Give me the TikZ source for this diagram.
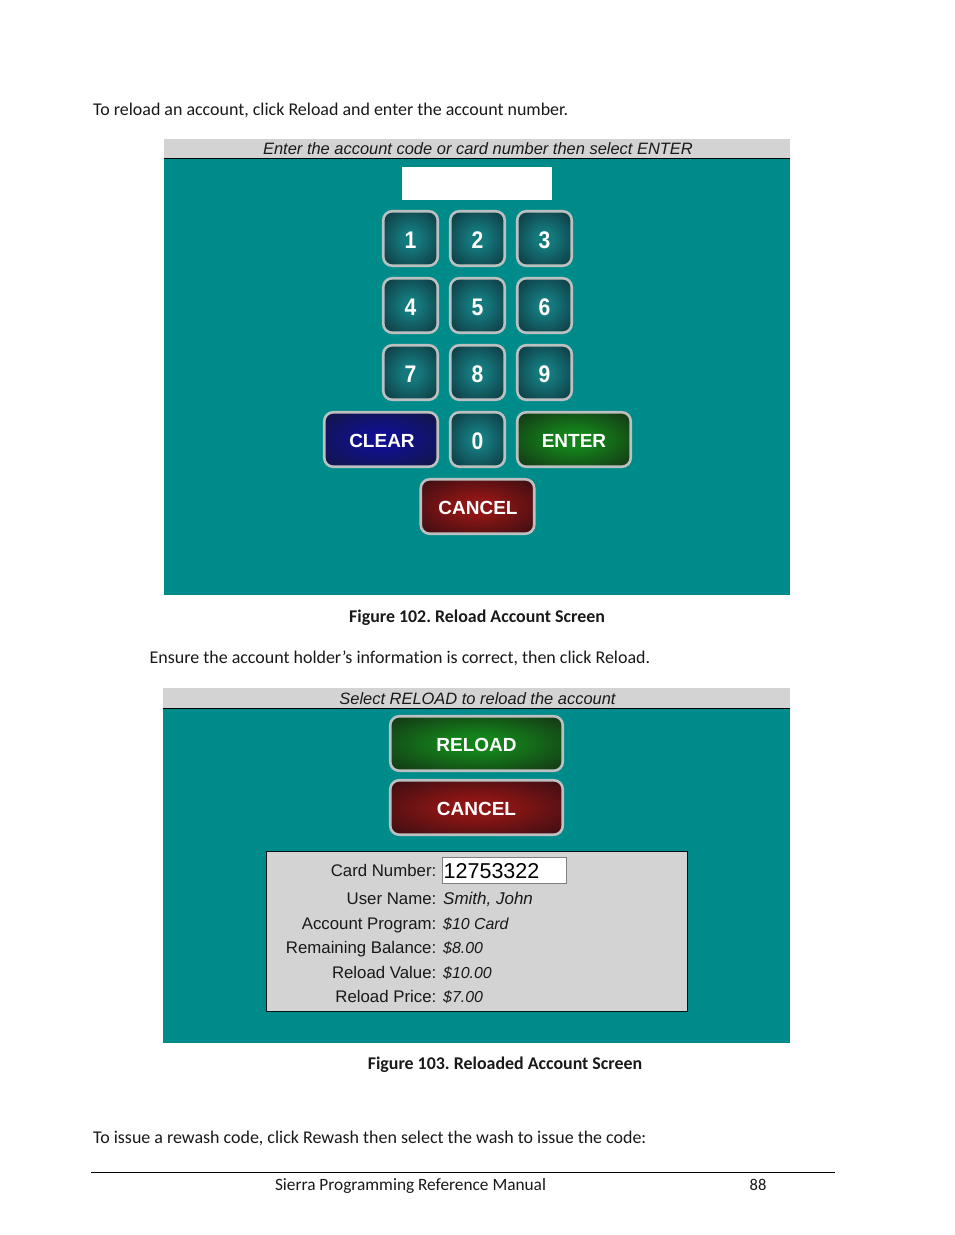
\documentclass[tikz,border=0pt]{standalone}
\usepackage{fontspec}
\setmainfont[Ligatures=NoCommon]{Carlito}
\newfontfamily\uifont{Liberation Sans}
\newfontfamily\digitfont[FakeStretch=0.88]{Liberation Sans}
\frenchspacing
\definecolor{tealbg}{HTML}{008B8B}
\definecolor{panelgray}{HTML}{D3D3D3}
\definecolor{rimgray}{HTML}{BCC0C0}
\definecolor{keyin}{HTML}{14787C}
\definecolor{keyout}{HTML}{0E343C}
\definecolor{bluein}{HTML}{10108E}
\definecolor{blueout}{HTML}{141640}
\definecolor{greenin}{HTML}{14821A}
\definecolor{greenout}{HTML}{143216}
\definecolor{redin}{HTML}{8E1515}
\definecolor{redout}{HTML}{380E12}
\pgfdeclareradialshading{keyshade}{\pgfpoint{0bp}{0bp}}{color(0bp)=(keyin); color(8bp)=(keyin); color(36bp)=(keyout); color(100bp)=(keyout)}
\pgfdeclareradialshading{blueshade}{\pgfpoint{0bp}{0bp}}{color(0bp)=(bluein); color(8bp)=(bluein); color(36bp)=(blueout); color(100bp)=(blueout)}
\pgfdeclareradialshading{greenshade}{\pgfpoint{0bp}{0bp}}{color(0bp)=(greenin); color(8bp)=(greenin); color(36bp)=(greenout); color(100bp)=(greenout)}
\pgfdeclareradialshading{redshade}{\pgfpoint{0bp}{0bp}}{color(0bp)=(redin); color(8bp)=(redin); color(36bp)=(redout); color(100bp)=(redout)}
\tikzset{x=1pt,y=-1pt,
 btn/.style={draw=rimgray,line width=2.6pt,rounded corners=9pt,inner sep=0pt,minimum height=54.5pt},
 numkey/.style={btn,minimum width=54.5pt,shading=keyshade},
 widekey/.style={btn,minimum width=113.5pt},
 longkey/.style={btn,minimum width=172.5pt},
 bluekey/.style={shading=blueshade},
 greenkey/.style={shading=greenshade},
 redkey/.style={shading=redshade},
 digittext/.style={inner sep=0pt,text=white,font=\digitfont\bfseries\fontsize{24}{24}\selectfont},
 btntext/.style={inner sep=0pt,text=white,font=\uifont\bfseries\fontsize{19}{19}\selectfont},
 bodytext/.style={anchor=base west,inner sep=0pt,font=\fontsize{17.95}{20}\selectfont,text=black!90},
 captext/.style={anchor=base,inner sep=0pt,font=\bfseries\fontsize{17.9}{20}\selectfont,text=black!90},
 headtext/.style={anchor=base,inner sep=0pt,font=\uifont\itshape\fontsize{16.45}{18}\selectfont,text=black!90},
 lab/.style={anchor=base east,inner sep=0pt,font=\uifont\fontsize{16.8}{18}\selectfont,text=black!90},
 val/.style={anchor=base west,inner sep=0pt,font=\uifont\itshape\fontsize{15.9}{18}\selectfont,text=black!90},
}
\begin{document}
\begin{tikzpicture}
\useasboundingbox (0,0) rectangle (954,1235);
\fill[white] (0,0) rectangle (954,1235);
\node[bodytext] (t1) at (93,115) {To reload an account, click Reload and enter the account number.};
% first screen
\fill[panelgray] (164,139) rectangle (790,158);
\fill[tealbg] (164,158) rectangle (790,595);
\draw[black,line width=0.8pt] (164,158.5) -- (790,158.5);
\node[headtext] (h1) at (478,154) {Enter the account code or card number then select ENTER};
\node[fill=white,inner sep=0pt,minimum width=150pt,minimum height=33pt] (entry) at (477.2,183.8) {};
\foreach \n/\x/\y in {1/410.5/238.5,2/477.5/238.5,3/544.5/238.5,4/410.5/305.5,5/477.5/305.5,6/544.5/305.5,7/410.5/372.5,8/477.5/372.5,9/544.5/372.5,0/477.5/439.5}{
  \node[numkey] (k\n) at (\x,\y) {};
  \node[digittext] at (\x,\y+1.5) {\n};
}
\node[widekey,bluekey] (clear) at (381,439.5) {};
\node[btntext] at (382,441) {CLEAR};
\node[widekey,greenkey] (enter) at (574,439.5) {};
\node[btntext] at (574,441) {ENTER};
\node[widekey,redkey] (cancelA) at (477.5,506.5) {};
\node[btntext] at (478,508) {CANCEL};
\node[captext] (c1) at (477,622) {Figure 102. Reload Account Screen};
\node[bodytext] (t2) at (149.5,663) {Ensure the account holder’s information is correct, then click Reload.};
% second screen
\fill[panelgray] (163,688) rectangle (790,708);
\fill[tealbg] (163,708) rectangle (790,1043);
\draw[black,line width=0.8pt] (163,708.5) -- (790,708.5);
\node[headtext] (h2) at (477.5,704) {Select RELOAD to reload the account};
\node[longkey,greenkey] (reload) at (476.5,743.5) {};
\node[btntext] at (476.5,745) {RELOAD};
\node[longkey,redkey] (cancelB) at (476.5,807.5) {};
\node[btntext] at (476.5,809) {CANCEL};
\node[draw=black!85!teal,fill=panelgray,line width=0.9pt,inner sep=0pt,minimum width=421pt,minimum height=160pt] (info) at (477,931.5) {};
\node[draw=black!50,fill=white,line width=0.7pt,inner sep=0pt,minimum width=124.5pt,minimum height=26.5pt] (cardbox) at (504.5,870.5) {};
\node[anchor=base west,inner sep=0pt,font=\uifont\fontsize{21.5}{22}\selectfont] (cardno) at (443.5,878) {12753322};
\foreach \l/\v/\y in {Card Number://876,User Name:/{\fontsize{17}{18}\selectfont Smith, John}/904,Account Program:/{\$10 Card}/929,Remaining Balance:/{\$8.00}/953,Reload Value:/{\$10.00}/978,Reload Price:/{\$7.00}/1002}{
  \node[lab] at (436.5,\y) {\l};
  \node[val] at (443,\y) {\v};
}
\node[captext] (c2) at (505,1069) {Figure 103. Reloaded Account Screen};
\node[bodytext] (t3) at (93,1143) {To issue a rewash code, click Rewash then select the wash to issue the code:};
\coordinate (fl) at (91,1172.5);
\coordinate (fr) at (835,1172.5);
\draw[black,line width=0.9pt] (fl) -- (fr);
\node[anchor=base,inner sep=0pt,font=\fontsize{17.3}{18}\selectfont,text=black!90] (foot) at (410.5,1190) {Sierra Programming Reference Manual};
\node[anchor=base,inner sep=0pt,font=\fontsize{16.5}{18}\selectfont,text=black!90] (page) at (758,1190) {88};
\end{tikzpicture}
\end{document}
